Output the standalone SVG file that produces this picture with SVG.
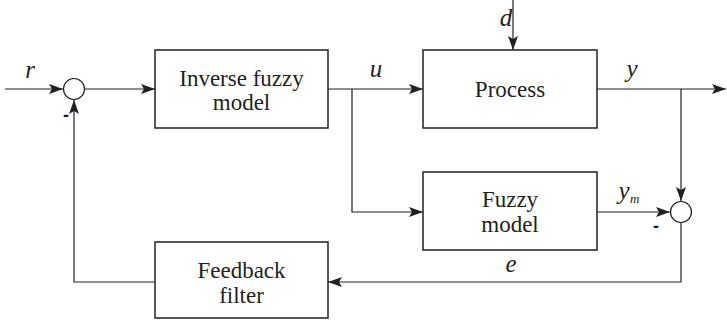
<svg xmlns="http://www.w3.org/2000/svg" width="727" height="320" viewBox="0 0 727 320">
  <style>
    .box { fill: #fff; stroke: #231f20; stroke-width: 1.5; }
    .sum { fill: #fff; stroke: #231f20; stroke-width: 1.2; }
    .wire { fill: none; stroke: #231f20; stroke-width: 1.2; }
    .lbl { font-size: 23px; fill: #231f20; text-anchor: middle; }
    .var { font-size: 25px; font-style: italic; fill: #231f20; text-anchor: middle; }
    .sub { font-size: 13px; font-style: italic; fill: #231f20; }
    .minus { font-size: 18px; font-weight: bold; fill: #231f20; text-anchor: middle; }
  </style>
  <defs>
    <marker id="arrow" viewBox="0 0 14 10" refX="14" refY="5" markerWidth="15" markerHeight="10" markerUnits="userSpaceOnUse" orient="auto">
      <path d="M0,0 L14,5 L0,10 L3,5 Z" fill="#231f20"/>
    </marker>
  </defs>

  <g id="connectors">
    <line class="wire" x1="5" y1="89" x2="63" y2="89" marker-end="url(#arrow)"/>
    <line class="wire" x1="85" y1="89" x2="155" y2="89" marker-end="url(#arrow)"/>
    <line class="wire" x1="328" y1="89" x2="423" y2="89" marker-end="url(#arrow)"/>
    <polyline class="wire" points="352,89 352,212 423,212" marker-end="url(#arrow)"/>
    <line class="wire" x1="513" y1="0" x2="513" y2="50" marker-end="url(#arrow)"/>
    <line class="wire" x1="597" y1="89" x2="726" y2="89" marker-end="url(#arrow)"/>
    <line class="wire" x1="681" y1="89" x2="681" y2="201" marker-end="url(#arrow)"/>
    <line class="wire" x1="597" y1="212" x2="670" y2="212" marker-end="url(#arrow)"/>
    <polyline class="wire" points="681,222 681,282 328,282" marker-end="url(#arrow)"/>
    <polyline class="wire" points="155,282 74,282 74,100" marker-end="url(#arrow)"/>
  </g>

  <g id="sum-ref">
    <circle class="sum" cx="74" cy="89" r="10.5"/>
  </g>
  <g id="sum-err">
    <circle class="sum" cx="681" cy="212" r="10.5"/>
  </g>

  <g font-family="Liberation Serif, Times New Roman, DejaVu Serif, serif">
    <g id="inverse-model">
      <rect class="box" x="155" y="50" width="173" height="78"/>
      <text class="lbl" x="241.5" y="86">Inverse fuzzy</text>
      <text class="lbl" x="241.5" y="110">model</text>
    </g>
    <g id="process">
      <rect class="box" x="423" y="50" width="174" height="78"/>
      <text class="lbl" x="510" y="97">Process</text>
    </g>
    <g id="fuzzy-model">
      <rect class="box" x="423" y="172" width="174" height="78"/>
      <text class="lbl" x="510" y="207">Fuzzy</text>
      <text class="lbl" x="510" y="232">model</text>
    </g>
    <g id="feedback-filter">
      <rect class="box" x="155" y="242" width="173" height="76"/>
      <text class="lbl" x="241.5" y="278">Feedback</text>
      <text class="lbl" x="241.5" y="303">filter</text>
    </g>

    <g id="labels">
      <text class="var" x="30" y="78">r</text>
      <text class="var" x="376" y="77">u</text>
      <text class="var" x="506" y="26">d</text>
      <text class="var" x="632" y="77">y</text>
      <text class="var" x="624" y="199">y</text>
      <text class="sub" x="630" y="203">m</text>
      <text class="var" x="511" y="272">e</text>
    </g>
  </g>
  <g id="signs" font-family="Liberation Sans, Arial, sans-serif">
    <text class="minus" x="66" y="121">-</text>
    <text class="minus" x="656" y="232">-</text>
  </g>
</svg>
